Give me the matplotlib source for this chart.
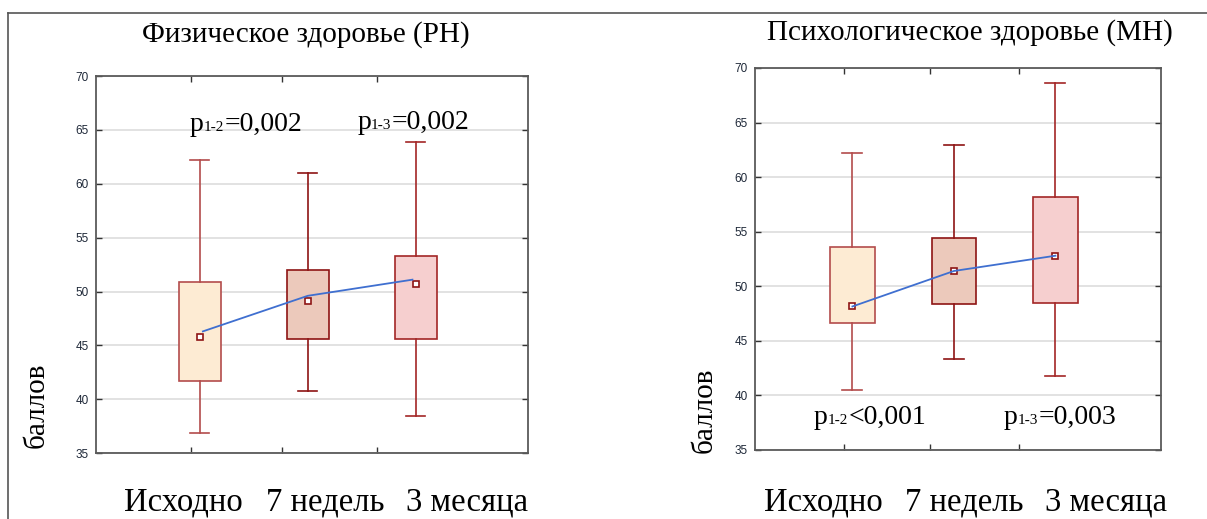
import matplotlib
matplotlib.use("Agg")
import matplotlib.pyplot as plt
from matplotlib.lines import Line2D
from matplotlib.offsetbox import TextArea, HPacker, AnnotationBbox

plt.rcParams['font.family'] = ['Liberation Serif', 'DejaVu Serif']

categories = ["Исходно", "7 недель", "3 месяца"]
yticks = [35, 40, 45, 50, 55, 60, 65, 70]

# Физическое здоровье (PH)
ph_min = [36.9, 40.8, 38.4]
ph_q1 = [41.7, 45.6, 45.6]
ph_point = [45.8, 49.1, 50.7]
ph_q3 = [50.9, 52.0, 53.3]
ph_max = [62.2, 61.0, 63.9]
ph_line = [46.3, 49.6, 51.1]
ph_pvals = [("1-2", "=0,002"), ("1-3", "=0,002")]

# Психологическое здоровье (MH)
mh_min = [40.5, 43.3, 41.8]
mh_q1 = [46.6, 48.4, 48.5]
mh_point = [48.15, 51.4, 52.8]
mh_q3 = [53.6, 54.4, 58.2]
mh_max = [62.2, 62.9, 68.6]
mh_line = [48.15, 51.4, 52.8]
mh_pvals = [("1-2", "<0,001"), ("1-3", "=0,003")]

fills = ['#fdebd3', '#ecc9bb', '#f6cfcf']
edges = ['#b34c4c', '#8e1414', '#a32626']


def draw_panel(ax, lo, q1, pt, q3, hi, line, width, line_x):
    for i in range(3):
        st = [dict(med=pt[i], q1=q1[i], q3=q3[i], whislo=lo[i], whishi=hi[i], mean=pt[i])]
        ax.bxp(st, positions=[i + 1], widths=width, patch_artist=True, showfliers=False,
               showmeans=True, capwidths=width * 0.45,
               boxprops=dict(facecolor=fills[i], edgecolor=edges[i], linewidth=1.2),
               whiskerprops=dict(color=edges[i], linewidth=1.2),
               capprops=dict(color=edges[i], linewidth=1.2),
               medianprops=dict(linewidth=0),
               meanprops=dict(marker='s', markerfacecolor='white', markeredgecolor=edges[1],
                              markersize=5, markeredgewidth=1.2), zorder=3)
    ax.plot(line_x, line, color='#3f6fd0', lw=1.3, zorder=4)
    ax.set_xlim(0.04, 4.04)
    ax.set_ylim(35, 70)
    ax.set_yticks(yticks)
    ax.set_xticks([0.92, 1.76, 2.64])
    ax.set_xticklabels([])
    ax.yaxis.grid(True, color='#dadada', lw=1.1, zorder=0)
    ax.set_axisbelow(True)
    ax.tick_params(direction='in', length=4, width=1, color='#333333',
                   top=True, right=True, pad=5)
    for lab in ax.get_yticklabels():
        lab.set_family('Liberation Sans')
        lab.set_fontsize(8.5)
        lab.set_color('#1e2838')
    for s in ax.spines.values():
        s.set_color('#5a5a5a')
        s.set_linewidth(1.3)


def p_label(ax, xy, sub, rest):
    parts = [TextArea("p", textprops=dict(fontsize=20)),
             TextArea(sub, textprops=dict(fontsize=11)),
             TextArea(rest, textprops=dict(fontsize=20))]
    box = HPacker(children=parts, align="baseline", pad=0, sep=0)
    ab = AnnotationBbox(box, xy, xycoords='axes fraction', frameon=False,
                        box_alignment=(0.5, 0.5), pad=0, zorder=5)
    ax.add_artist(ab)


fig = plt.figure(figsize=(12.07, 5.19), dpi=100)

ax1 = fig.add_axes([0.0795, 0.127, 0.358, 0.7264])
draw_panel(ax1, ph_min, ph_q1, ph_point, ph_q3, ph_max, ph_line, 0.39, [1.03, 2.0, 2.97])
p_label(ax1, (0.347, 0.872), *ph_pvals[0])
p_label(ax1, (0.734, 0.877), *ph_pvals[1])

ax2 = fig.add_axes([0.6255, 0.133, 0.3364, 0.736])
draw_panel(ax2, mh_min, mh_q1, mh_point, mh_q3, mh_max, mh_line, 0.44, [1, 2, 3])
p_label(ax2, (0.283, 0.086), *mh_pvals[0])
p_label(ax2, (0.751, 0.086), *mh_pvals[1])

fig.text(0.2535, 0.9326, "Физическое здоровье (РН)", ha='center', va='center', fontsize=21)
fig.text(0.8036, 0.938, "Психологическое здоровье (МН)", ha='center', va='center', fontsize=21)

for x, c in zip([0.1516, 0.2693, 0.3869], categories):
    fig.text(x, 0.0328, c, ha='center', va='center', fontsize=23.5)
for x, c in zip([0.6819, 0.7987, 0.9163], categories):
    fig.text(x, 0.0328, c, ha='center', va='center', fontsize=23.5)

fig.text(0.0307, 0.2197, "баллов", rotation=90, ha='center', va='center', fontsize=21)
fig.text(0.5837, 0.21, "баллов", rotation=90, ha='center', va='center', fontsize=21)

# outer frame
fig.add_artist(Line2D([0.0066, 0.0066], [0, 0.975], color='#555555', lw=1.2))
fig.add_artist(Line2D([0.0066, 1.0], [0.975, 0.975], color='#555555', lw=1.2))

fig.savefig("out.png", dpi=100)
